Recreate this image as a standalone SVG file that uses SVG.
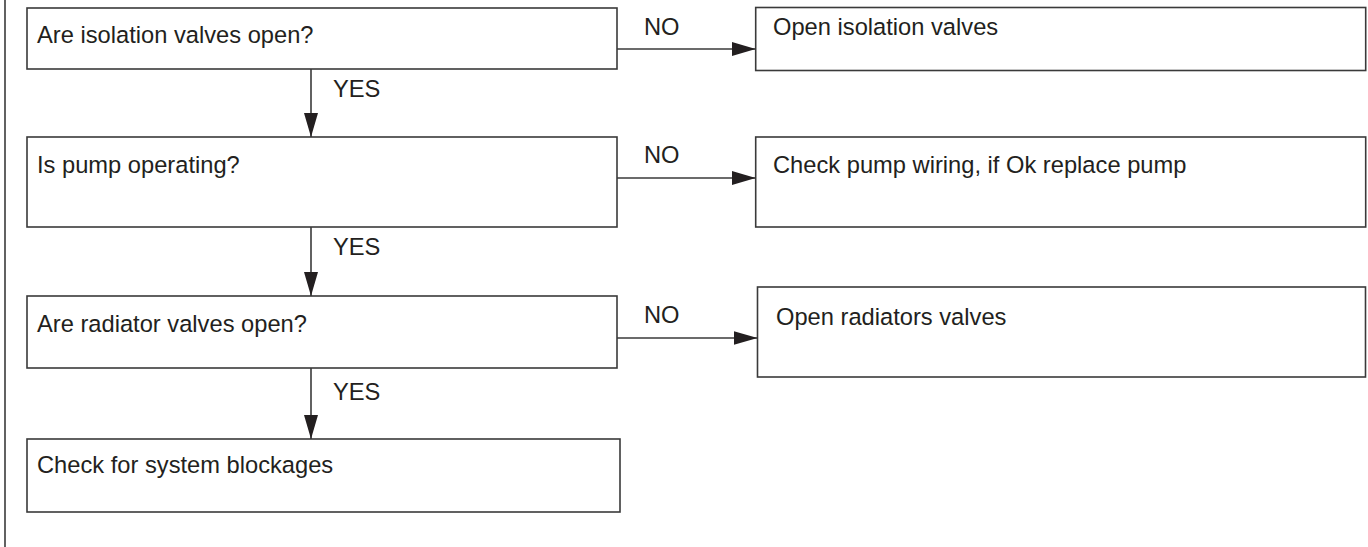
<svg xmlns="http://www.w3.org/2000/svg" width="1368" height="547" viewBox="0 0 1368 547">
<style>
.box{fill:#fff;stroke:#3a3a3a;stroke-width:1.6}
.t{font-family:"Liberation Sans",Arial,sans-serif;font-size:23.7px;fill:#231f20}
.c{stroke:#3a3a3a;stroke-width:1.6;fill:none}
</style>
<defs>
<marker id="ah" markerUnits="userSpaceOnUse" markerWidth="24" markerHeight="14" refX="24" refY="7" orient="auto">
<path d="M0,0 L24,7 L0,14 Z" fill="#231f20"/>
</marker>
</defs>
<rect width="1368" height="547" fill="#fff"/>
<line x1="5" y1="0" x2="5" y2="547" stroke="#3a3a3a" stroke-width="1.6"/>
<g id="n1"><rect class="box" x="27" y="8" width="590" height="61"/><text class="t" x="37" y="43">Are isolation valves open?</text></g>
<g id="n2"><rect class="box" x="755.7" y="7.5" width="610" height="63"/><text class="t" x="773" y="35">Open isolation valves</text></g>
<g id="n3"><rect class="box" x="27" y="137" width="590" height="90"/><text class="t" x="37" y="173">Is pump operating?</text></g>
<g id="n4"><rect class="box" x="755.7" y="137" width="610" height="90"/><text class="t" x="773" y="173">Check pump wiring, if Ok replace pump</text></g>
<g id="n5"><rect class="box" x="27" y="296" width="590" height="72"/><text class="t" x="37" y="332">Are radiator valves open?</text></g>
<g id="n6"><rect class="box" x="757.5" y="287" width="608" height="90"/><text class="t" x="776" y="325">Open radiators valves</text></g>
<g id="n7"><rect class="box" x="27" y="439" width="593" height="73"/><text class="t" x="37" y="473">Check for system blockages</text></g>
<g id="connectors">
<line class="c" x1="617" y1="49" x2="755.7" y2="49" marker-end="url(#ah)"/>
<line class="c" x1="617" y1="178" x2="755.7" y2="178" marker-end="url(#ah)"/>
<line class="c" x1="617" y1="338" x2="757.5" y2="338" marker-end="url(#ah)"/>
<line class="c" x1="311" y1="69" x2="311" y2="137" marker-end="url(#ah)"/>
<line class="c" x1="311" y1="227" x2="311" y2="296" marker-end="url(#ah)"/>
<line class="c" x1="311" y1="368" x2="311" y2="439" marker-end="url(#ah)"/>
<text class="t" x="644" y="35">NO</text>
<text class="t" x="644" y="163">NO</text>
<text class="t" x="644" y="323">NO</text>
<text class="t" x="333" y="97">YES</text>
<text class="t" x="333" y="255">YES</text>
<text class="t" x="333" y="400">YES</text>
</g>
</svg>
